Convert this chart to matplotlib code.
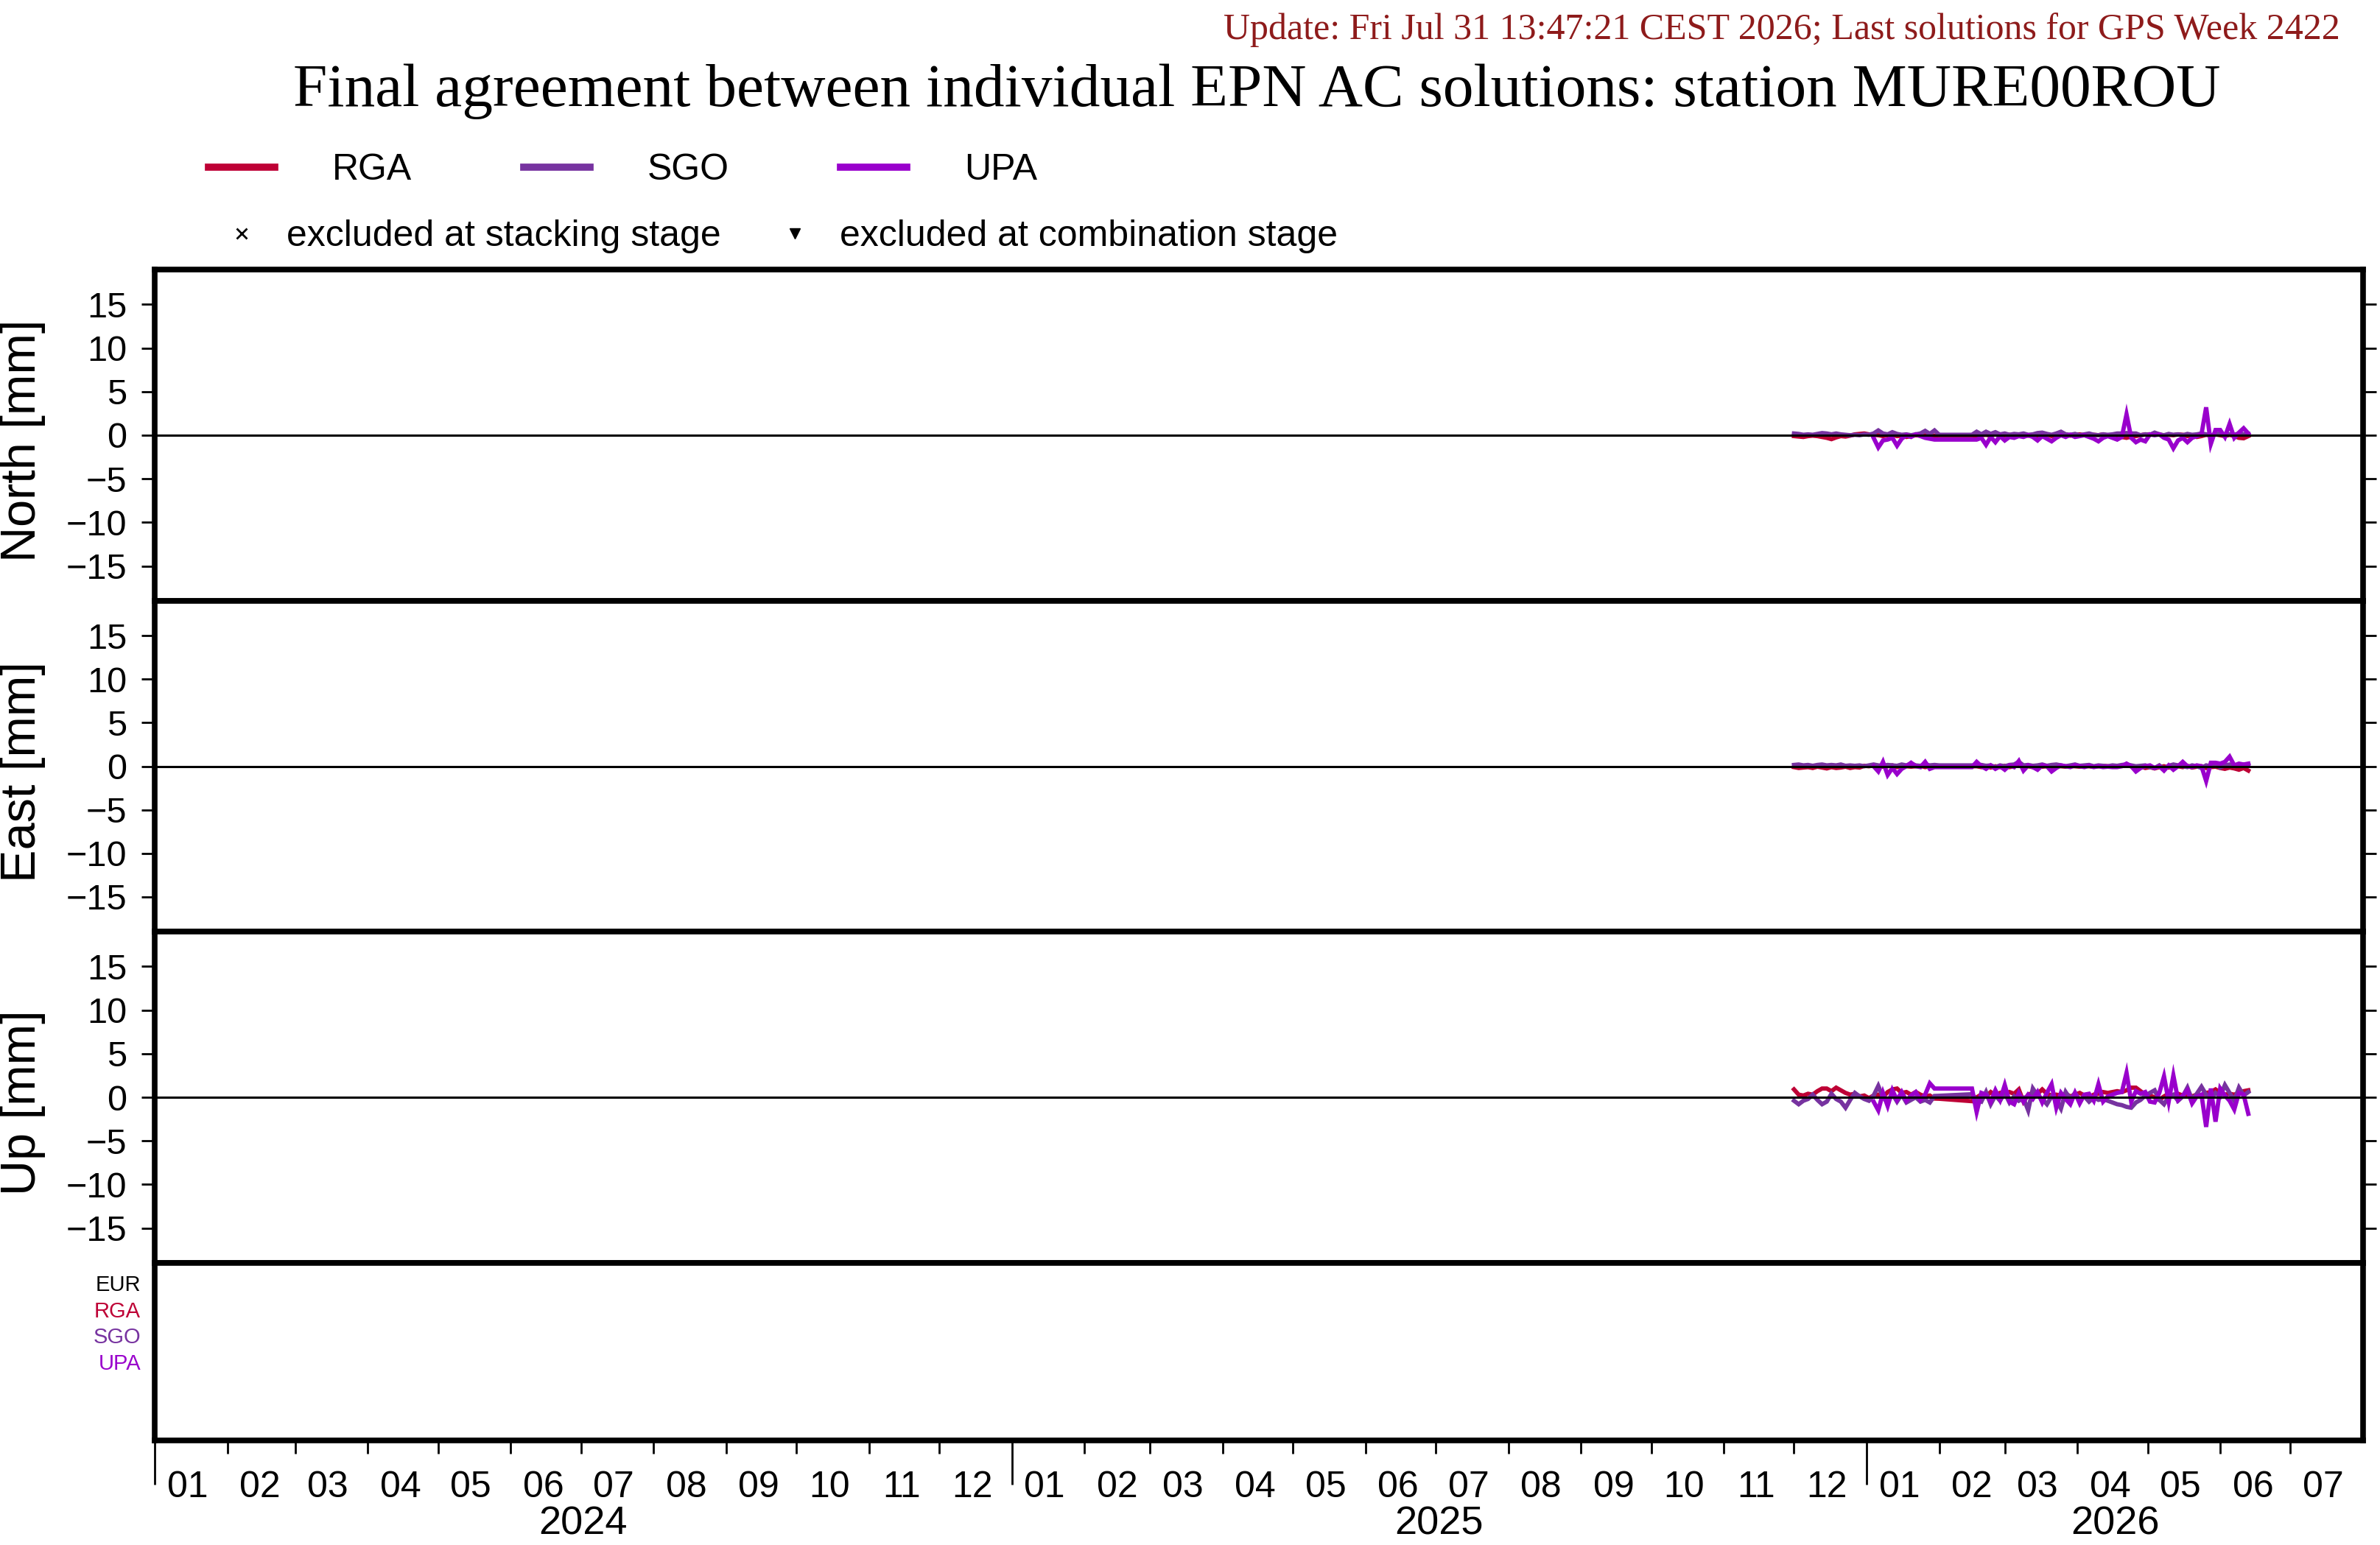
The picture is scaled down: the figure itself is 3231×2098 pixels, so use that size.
import numpy as np
import matplotlib
matplotlib.use('Agg')
import matplotlib.pyplot as plt
from matplotlib.lines import Line2D
from matplotlib.transforms import blended_transform_factory
import pandas as pd

nan = np.nan

# ---------------- data ----------------
start = np.datetime64('2025-12-01')
day_offsets = np.arange(0, 196, 2)
dates = start + day_offsets.astype('timedelta64[D]')

ac_names = ['RGA', 'SGO', 'UPA']
ac_colors = ['#BE0035', '#7733A0', '#9900CC']
components = ['North', 'East', 'Up']

north_rga = [-0.1, -0.15, -0.2, -0.1, -0.05, -0.1, -0.2, -0.3, -0.45, -0.25,
             -0.1, -0.15, -0.05, 0.1, 0.15, 0.2, 0.1, 0.05, 0.0, -0.1,
             0.0, 0.05, -0.1, -0.05, -0.2, -0.1, 0.0, -0.05, 0.0, -0.1,
             -0.05, -0.05, nan, nan, nan, nan, nan, nan, -0.05, -0.1,
             0.0, 0.05, -0.05, 0.1, -0.1, 0.0, 0.05, -0.1, 0.0, 0.1,
             -0.05, 0.05, -0.15, 0.0, 0.1, -0.1, 0.0, 0.05, 0.1, -0.05,
             0.05, 0.1, 0.0, -0.1, 0.05, 0.0, 0.1, -0.05, 0.0, -0.1,
             -0.2, -0.3, -0.15, -0.1, 0.0, 0.1, 0.05, 0.15, 0.1, -0.05,
             0.05, 0.0, 0.1, 0.05, -0.1, 0.0, -0.2, -0.1, 0.05, -0.05,
             0.1, 0.0, -0.1, 0.05, -0.1, -0.3, -0.35, -0.1]
north_sgo = [0.2, 0.15, 0.05, 0.1, 0.05, 0.15, 0.25, 0.2, 0.1, 0.2,
             0.1, 0.05, 0.0, 0.05, 0.0, 0.1, 0.05, 0.2, 0.55, 0.2,
             0.1, 0.35, 0.15, 0.05, 0.1, 0.0, 0.1, 0.2, 0.5, 0.15,
             0.55, 0.05, nan, nan, nan, nan, nan, nan, 0.05, 0.4,
             0.1, 0.4, 0.15, 0.35, 0.1, 0.2, 0.05, 0.15, 0.1, 0.2,
             0.05, 0.1, 0.25, 0.3, 0.15, 0.05, 0.2, 0.4, 0.1, 0.05,
             0.15, 0.0, 0.1, 0.2, 0.05, 0.0, 0.1, 0.05, 0.1, 0.2,
             0.2, 0.25, 0.2, 0.2, 0.0, 0.1, 0.05, 0.3, 0.1, 0.0,
             0.15, 0.05, 0.1, 0.0, 0.15, 0.05, 0.1, 0.2, 0.1, 0.0,
             0.1, 0.15, 0.0, 0.1, 0.05, 0.2, 0.1, 0.15]
north_upa = [nan, nan, nan, nan, nan, nan, nan, nan, nan, nan,
             nan, nan, nan, nan, nan, nan, nan, -0.3, -1.4, -0.6,
             -0.5, -0.3, -1.2, -0.4, 0.0, -0.2, 0.1, -0.1, -0.3, -0.4,
             -0.5, -0.5, nan, nan, nan, nan, nan, nan, -0.5, -0.5,
             -0.3, -1.1, -0.2, -0.8, -0.1, -0.6, -0.2, -0.3, -0.1, -0.2,
             0.0, -0.2, -0.6, -0.1, -0.4, -0.7, -0.3, 0.0, -0.2, 0.05,
             -0.2, -0.1, 0.0, -0.2, -0.4, -0.7, -0.3, -0.1, -0.3, -0.5,
             -0.2, 2.4, -0.3, -0.8, -0.5, -0.7, 0.1, 0.0, 0.1, -0.3,
             -0.5, -1.5, -0.6, -0.3, -0.8, -0.3, -0.1, 0.1, 3.2, -1.0,
             0.6, 0.6, -0.2, 1.3, -0.3, 0.3, 0.8, 0.2]

east_rga = [-0.1, -0.2, -0.15, -0.1, -0.2, -0.05, -0.15, -0.25, -0.1, -0.2,
            -0.15, -0.05, -0.2, -0.1, -0.15, 0.05, 0.0, 0.1, 0.05, -0.05,
            0.0, 0.1, -0.1, 0.05, 0.0, -0.05, 0.0, 0.05, -0.1, 0.0,
            -0.05, 0.0, nan, nan, nan, nan, nan, nan, 0.0, 0.0,
            -0.1, 0.05, -0.15, 0.0, -0.1, 0.05, -0.1, 0.0, 0.1, -0.05,
            0.0, -0.1, 0.05, -0.05, 0.0, -0.1, 0.05, 0.0, -0.05, 0.05,
            0.0, -0.05, 0.05, 0.0, -0.05, 0.0, 0.05, 0.0, -0.05, 0.0,
            0.05, 0.1, 0.0, -0.1, 0.0, -0.2, -0.1, -0.25, -0.1, 0.0,
            -0.15, -0.05, 0.0, -0.1, 0.05, -0.15, -0.05, 0.0, -0.2, -0.1,
            -0.05, -0.2, -0.3, -0.15, -0.25, -0.4, -0.2, -0.5]
east_sgo = [0.15, 0.2, 0.1, 0.15, 0.05, 0.15, 0.2, 0.1, 0.15, 0.1,
            0.2, 0.05, 0.1, 0.05, 0.1, 0.0, 0.1, 0.2, 0.1, 0.05,
            0.15, 0.1, 0.05, 0.2, 0.1, 0.3, 0.1, 0.05, 0.2, 0.1,
            0.15, 0.1, nan, nan, nan, nan, nan, nan, 0.1, 0.1,
            0.15, 0.05, 0.1, -0.1, 0.1, 0.0, 0.15, 0.2, 0.5, 0.1,
            0.15, 0.05, 0.1, 0.2, 0.05, 0.15, 0.2, 0.1, 0.0, 0.1,
            0.2, 0.05, 0.1, 0.15, 0.0, 0.1, 0.05, 0.0, 0.1, 0.05,
            0.15, 0.2, 0.1, 0.0, 0.05, 0.1, -0.1, -0.2, 0.1, -0.3,
            0.05, 0.2, 0.1, 0.0, -0.1, 0.1, 0.0, -0.2, 0.1, 0.0,
            0.2, -0.15, 0.1, 0.2, 0.0, 0.1, 0.2, 0.1]
east_upa = [nan, nan, nan, nan, nan, nan, nan, nan, nan, nan,
            nan, nan, nan, nan, nan, nan, nan, 0.0, -0.6, 0.5,
            -1.0, -0.2, -0.9, -0.3, 0.0, 0.4, 0.0, -0.1, 0.5, -0.3,
            -0.1, -0.1, nan, nan, nan, nan, nan, nan, -0.1, 0.5,
            0.0, -0.3, 0.1, -0.3, 0.0, -0.4, 0.1, -0.1, 0.6, -0.5,
            0.1, -0.1, -0.4, 0.1, 0.0, -0.6, -0.2, 0.1, 0.0, -0.1,
            0.1, 0.0, -0.1, 0.05, -0.1, 0.0, -0.1, -0.05, -0.1, -0.1,
            0.0, 0.3, 0.0, -0.6, -0.2, 0.0, 0.1, -0.2, 0.0, -0.5,
            0.1, -0.4, 0.0, 0.5, 0.0, -0.1, 0.1, 0.0, -1.7, 0.4,
            0.4, 0.3, 0.5, 1.1, 0.1, 0.3, 0.2, 0.3]

up_rga = [0.9, 0.3, 0.2, 0.4, 0.3, 0.7, 1.0, 1.0, 0.7, 1.1,
          0.8, 0.5, 0.3, 0.4, 0.1, 0.2, -0.1, 0.2, 0.3, 0.0,
          0.6, 0.9, 1.0, 0.5, 0.6, 0.3, 0.6, 0.3, 0.1, 0.2,
          -0.15, -0.17, nan, nan, nan, nan, nan, nan, -0.45, 0.0,
          0.3, 0.1, 0.6, 0.2, 0.5, 0.3, 0.6, 0.4, 0.9, -0.5,
          0.3, 0.5, 0.4, 0.9, 0.4, 0.2, 0.3, 0.2, 0.4, 0.1,
          0.3, 0.5, 0.2, 0.0, 0.3, 0.4, 0.6, 0.5, 0.6, 0.7,
          0.6, 0.8, 1.1, 1.1, 0.7, 0.3, 0.2, 0.0, -0.3, 0.1,
          0.4, 0.2, 0.4, 0.2, 0.3, 0.1, 0.3, 0.2, 0.5, 0.6,
          0.9, 0.5, 0.3, 0.4, 0.3, 0.5, 0.7, 0.8]
up_sgo = [-0.4, -0.8, -0.4, -0.2, 0.3, -0.3, -0.8, -0.5, 0.4, -0.2,
          -0.5, -1.2, -0.3, 0.5, 0.1, -0.2, -0.4, 0.2, 1.3, 0.0,
          -0.6, 0.4, -0.5, 0.3, -0.6, -0.3, 0.0, -0.5, -0.3, -0.6,
          0.15, 0.17, nan, nan, nan, nan, nan, nan, 0.35, -0.3,
          -0.5, 0.6, -0.8, 0.2, -0.4, 0.5, -0.6, 0.1, -0.4, -0.1,
          -1.5, 1.0, 0.2, -0.2, -0.8, 0.1, -0.3, -1.3, 0.6, -0.2,
          0.5, -0.3, 0.1, -0.5, 0.0, -0.3, -0.2, -0.4, -0.6, -0.8,
          -0.9, -1.1, -1.2, -0.6, -0.3, 0.2, 0.5, 0.8, -0.3, -0.8,
          0.1, 0.3, -0.4, 0.1, 1.1, -0.3, 0.4, 1.2, 0.3, -0.2,
          0.5, 0.1, 1.4, 0.5, -0.4, 1.1, 0.2, 0.6]
up_upa = [nan, nan, nan, nan, nan, nan, nan, nan, nan, nan,
          nan, nan, nan, nan, nan, nan, nan, -0.5, -1.5, 0.5,
          -1.0, 0.8, -0.3, 0.6, -0.4, 0.2, 0.6, -0.3, 0.3, 1.6,
          1.0, 1.0, nan, nan, nan, nan, nan, nan, 1.0, -1.7,
          0.5, 0.3, -0.5, 0.8, -0.3, 1.4, -0.5, -0.8, 0.5, -0.5,
          0.3, -0.2, 0.6, -0.6, 0.5, 1.5, -1.2, 0.5, -0.2, -0.8,
          0.5, -0.7, 0.3, 0.4, -0.4, 1.5, -0.5, 0.1, 0.3, 0.5,
          0.6, 2.8, -0.5, 0.7, 0.4, 0.6, -0.5, -0.6, 0.5, 2.4,
          -0.5, 2.5, -0.3, 0.2, 0.8, -0.7, 0.1, 0.3, -3.4, 1.0,
          -2.8, 1.0, 0.2, -0.4, -1.4, 0.5, 0.3, -1.9]

series = {
    'North': [north_rga, north_sgo, north_upa],
    'East': [east_rga, east_sgo, east_upa],
    'Up': [up_rga, up_sgo, up_upa],
}

y_ticks = [-15, -10, -5, 0, 5, 10, 15]
x_start = np.datetime64('2024-01-01')
x_end = np.datetime64('2026-08-01')
month_starts = pd.date_range('2024-01-01', '2026-07-01', freq='MS')
year_starts = pd.to_datetime(['2024-01-01', '2025-01-01', '2026-01-01'])
year_labels = ['2024', '2025', '2026']
bottom_labels = ['EUR', 'RGA', 'SGO', 'UPA']
bottom_label_colors = ['#000000'] + ac_colors

title = 'Final agreement between individual EPN AC solutions: station MURE00ROU'
update = 'Update: Fri Jul 31 13:47:21 CEST 2026; Last solutions for GPS Week 2422'

# ---------------- figure ----------------
plt.rcParams['font.family'] = ['Liberation Sans', 'DejaVu Sans']
W, H = 3231, 2098
fig = plt.figure(figsize=(W / 100, H / 100), dpi=100)

left = 210 / W
width = (3208 - 210) / W
panel_px = [(366, 816), (816, 1265), (1265, 1715)]
bottom_px = (1715, 1956)

SPINE_LW = 5.5

def style_spines(ax):
    for s in ax.spines.values():
        s.set_linewidth(SPINE_LW)
        s.set_color('black')

for comp, (top, bot) in zip(components, panel_px):
    ax = fig.add_axes([left, 1 - bot / H, width, (bot - top) / H])
    for vals, col in zip(series[comp], ac_colors):
        y = np.asarray(vals, dtype=float)
        m = np.isfinite(y)
        ax.plot(dates[m], y[m], color=col, lw=4.2, solid_joinstyle='miter', zorder=2)
    ax.axhline(0, color='black', lw=2.2, zorder=3)
    ax.set_xlim(x_start, x_end)
    ax.set_ylim(-19, 19)
    ax.set_yticks(y_ticks)
    ax.set_yticklabels([str(v).replace('-', '\u2212') for v in y_ticks])
    ax.tick_params(axis='y', left=True, right=True, direction='out', length=13,
                   width=2, labelsize=35, pad=14)
    ax.tick_params(axis='x', bottom=False, labelbottom=False)
    ax.set_ylabel(comp + ' [mm]', fontsize=48, va='center')
    ax.yaxis.set_label_coords(-0.0598, 0.484)
    style_spines(ax)

# bottom exclusion panel
axb = fig.add_axes([left, 1 - bottom_px[1] / H, width, (bottom_px[1] - bottom_px[0]) / H])
axb.set_xlim(x_start, x_end)
axb.set_ylim(0, 1)
axb.set_yticks([])
style_spines(axb)
label_y = [0.875, 0.726, 0.581, 0.431]
for lab, col, yy in zip(bottom_labels, bottom_label_colors, label_y):
    axb.text(-0.0063, yy, lab, transform=axb.transAxes, ha='right', va='center',
             fontsize=21, color=col)

month_mids = month_starts + pd.Timedelta(days=14)
axb.set_xticks(month_starts)
axb.set_xticklabels([''] * len(month_starts))
axb.set_xticks(month_mids, minor=True)
axb.set_xticklabels(month_mids.strftime('%m'), minor=True)
axb.tick_params(axis='x', which='major', direction='out', length=13, width=2)
axb.tick_params(axis='x', which='minor', length=0, labelsize=36, pad=29.5)
year_start_set = set(year_starts)
for t, ms in zip(axb.xaxis.get_major_ticks(), month_starts):
    if ms in year_start_set:
        t.tick1line.set_markersize(43)

trans = blended_transform_factory(axb.transData, axb.transAxes)
for ys, lab in zip(year_starts, year_labels):
    ye = min(ys + pd.DateOffset(years=1), pd.Timestamp(x_end))
    mid = ys + (ye - ys) / 2
    axb.text(mid, -0.473, lab, transform=trans, ha='center', va='center', fontsize=39)

# legends
handles = [Line2D([], [], color=c, lw=7) for c in ac_colors]
fig.legend(handles, ac_names, loc='center left', bbox_to_anchor=(283 / W, 1 - 231 / H),
           ncol=3, frameon=False, fontsize=36, handlelength=1.8, handletextpad=1.56,
           columnspacing=3.03, borderpad=0, borderaxespad=0)
mk_handles = [Line2D([], [], marker='x', ls='', color='k', ms=10, mew=2),
              Line2D([], [], marker='v', ls='', color='k', ms=10)]
fig.legend(mk_handles, ['excluded at stacking stage', 'excluded at combination stage'],
           loc='center left', bbox_to_anchor=(283 / W, 1 - 321 / H), ncol=2,
           frameon=False, fontsize=36, handlelength=1.8, handletextpad=0.32,
           columnspacing=1.1, borderpad=0, borderaxespad=0, numpoints=1)

fig.text(1706 / W, 1 - 144 / H, title, ha='center', va='baseline', fontsize=60,
         family='Liberation Serif')
fig.text(3177 / W, 1 - 53 / H, update, ha='right', va='baseline', fontsize=36,
         family='Liberation Serif', color='#8E1B1B')

fig.savefig('out.png', dpi=100)
